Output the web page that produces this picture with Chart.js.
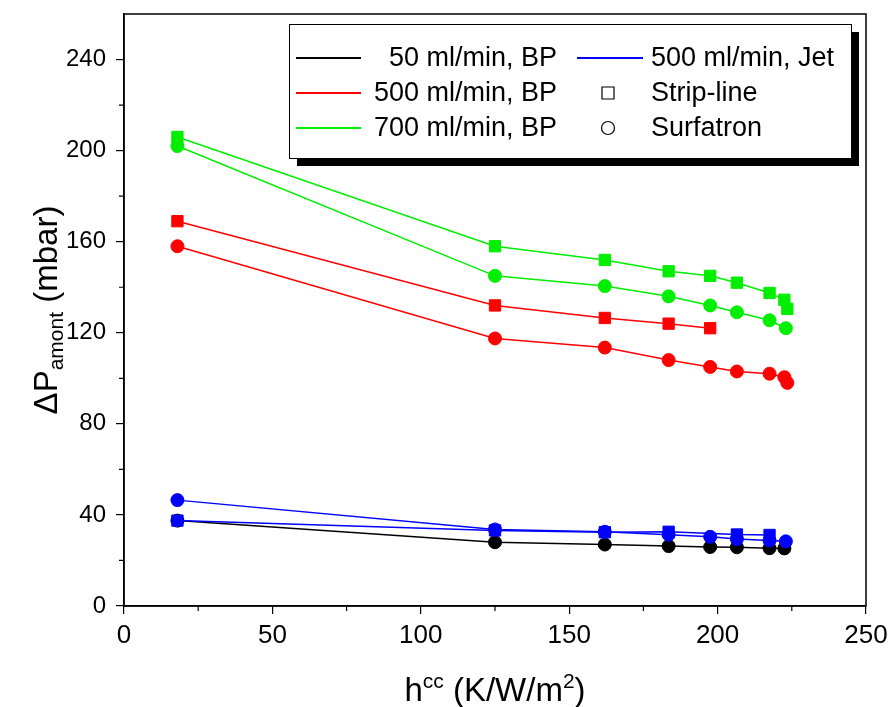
<!DOCTYPE html>
<html>
<head>
<meta charset="utf-8">
<script src="https://cdn.jsdelivr.net/npm/chart.js@4"></script>
<style>
  html, body { margin: 0; padding: 0; background: #fff; }
  #wrap { width: 893px; height: 707px; position: relative; }
</style>
</head>
<body>
<div id="wrap"><canvas id="chart"></canvas></div>
<script>
// h_cc values (K/W/m2) and pressure drop (mbar)
const greenStripX = [18, 125, 162, 183.5, 197.5, 206.5, 217.5, 222.5, 223.5];
const greenStripY = [206, 158, 152, 147, 145, 142, 137.5, 134.5, 130.5];
const greenSurfX = [18, 125, 162, 183.5, 197.5, 206.5, 217.5, 223];
const greenSurfY = [202, 145, 140.5, 136, 132, 129, 125.5, 122];

const redStripX = [18, 125, 162, 183.5, 197.5];
const redStripY = [169, 132, 126.5, 124, 122];
const redSurfX = [18, 125, 162, 183.5, 197.5, 206.5, 217.5, 222.5, 223.5];
const redSurfY = [158, 117.5, 113.5, 108, 105, 103, 102, 100.5, 98];

const blueStripX = [18, 125, 162, 183.5, 206.5, 217.5];
const blueStripY = [37.5, 33.2, 32.4, 32.6, 31.4, 31.2];
const blueSurfX = [18, 125, 162, 183.5, 197.5, 206.5, 217.5, 223];
const blueSurfY = [46.5, 33.6, 32.6, 31.3, 30.4, 29.4, 28.8, 28.4];

const blackSurfX = [18, 125, 162, 183.5, 197.5, 206.5, 217.5, 222.5];
const blackSurfY = [37.5, 28, 27, 26.3, 25.9, 25.8, 25.4, 25.3];

const xTicks = [0, 50, 100, 150, 200, 250];
const yTicks = [0, 40, 80, 120, 160, 200, 240];

const legendLines = [
  { label: '50 ml/min, BP', color: '#000000' },
  { label: '500 ml/min, BP', color: '#ff0000' },
  { label: '700 ml/min, BP', color: '#00ee00' }
];
const legendRight = [
  { label: '500 ml/min, Jet', kind: 'line', color: '#0000ff' },
  { label: 'Strip-line', kind: 'rect' },
  { label: 'Surfatron', kind: 'circle' }
];

const FONT = '"Liberation Sans", Arial, sans-serif';

function pts(xs, ys) {
  return xs.map((x, i) => ({ x: x, y: ys[i] }));
}

function series(xs, ys, color, style) {
  return {
    data: pts(xs, ys),
    showLine: true,
    borderColor: color,
    borderWidth: 1.5,
    backgroundColor: color,
    pointBackgroundColor: color,
    pointBorderColor: color,
    pointBorderWidth: 1,
    pointStyle: style,
    pointRadius: style === 'rect' ? 8 : 6.5,
    pointHoverRadius: style === 'rect' ? 8 : 6.5,
    tension: 0
  };
}

// first dataset ends up on top
const datasets = [
  series(greenStripX, greenStripY, '#00ee00', 'rect'),
  series(greenSurfX, greenSurfY, '#00ee00', 'circle'),
  series(redStripX, redStripY, '#ff0000', 'rect'),
  series(redSurfX, redSurfY, '#ff0000', 'circle'),
  series(blueStripX, blueStripY, '#0000ff', 'rect'),
  series(blueSurfX, blueSurfY, '#0000ff', 'circle'),
  series(blackSurfX, blackSurfY, '#000000', 'circle')
];

// frame, minor ticks, axis titles and the boxed legend
const decorations = {
  id: 'decorations',
  afterDraw(chart) {
    const ctx = chart.ctx;
    const a = chart.chartArea;
    const xs = chart.scales.x, ys = chart.scales.y;
    ctx.save();

    // frame
    ctx.strokeStyle = '#000';
    ctx.lineWidth = 1.5;
    ctx.strokeRect(a.left, a.top, a.right - a.left, a.bottom - a.top);

    // minor ticks
    ctx.lineWidth = 1.2;
    ctx.beginPath();
    for (let v = 20; v < 260; v += 40) {
      const py = ys.getPixelForValue(v);
      ctx.moveTo(a.left - 5, py); ctx.lineTo(a.left, py);
    }
    for (let v = 25; v < 250; v += 50) {
      const px = xs.getPixelForValue(v);
      ctx.moveTo(px, a.bottom); ctx.lineTo(px, a.bottom + 5);
    }
    ctx.stroke();

    // x axis title: h^cc (K/W/m^2)
    ctx.fillStyle = '#000';
    ctx.textBaseline = 'alphabetic';
    const big = '33px ' + FONT, small = '21px ' + FONT;
    const xParts = [
      { t: 'h', f: big, dy: 0 },
      { t: 'cc', f: small, dy: -13 },
      { t: ' (K/W/m', f: big, dy: 0 },
      { t: '2', f: small, dy: -13 },
      { t: ')', f: big, dy: 0 }
    ];
    let total = 0;
    xParts.forEach(p => { ctx.font = p.f; total += ctx.measureText(p.t).width; });
    let cx = (a.left + a.right) / 2 - total / 2;
    const by = 701;
    xParts.forEach(p => {
      ctx.font = p.f;
      ctx.textAlign = 'left';
      ctx.fillText(p.t, cx, by + p.dy);
      cx += ctx.measureText(p.t).width;
    });

    // y axis title: ΔP_amont (mbar)
    const yParts = [
      { t: '\u0394P', f: big, dy: 0 },
      { t: 'amont', f: small, dy: 6 },
      { t: ' (mbar)', f: big, dy: 0 }
    ];
    total = 0;
    yParts.forEach(p => { ctx.font = p.f; total += ctx.measureText(p.t).width; });
    ctx.translate(57, (a.top + a.bottom) / 2);
    ctx.rotate(-Math.PI / 2);
    cx = -total / 2;
    yParts.forEach(p => {
      ctx.font = p.f;
      ctx.textAlign = 'left';
      ctx.fillText(p.t, cx, p.dy);
      cx += ctx.measureText(p.t).width;
    });
    ctx.setTransform(1, 0, 0, 1, 0, 0);

    // legend box with drop shadow
    const lx = 289, ly = 24, lw = 562, lh = 134;
    ctx.fillStyle = '#000';
    ctx.fillRect(lx + 8, ly + 8, lw, lh);
    ctx.fillStyle = '#fff';
    ctx.fillRect(lx, ly, lw, lh);
    ctx.strokeStyle = '#000';
    ctx.lineWidth = 1;
    ctx.strokeRect(lx + 0.5, ly + 0.5, lw, lh);

    const rowsY = [58, 93, 128];
    ctx.font = '27px ' + FONT;
    ctx.textBaseline = 'middle';
    legendLines.forEach((item, i) => {
      ctx.strokeStyle = item.color;
      ctx.lineWidth = 2;
      ctx.beginPath();
      ctx.moveTo(296, rowsY[i]); ctx.lineTo(361, rowsY[i]);
      ctx.stroke();
      ctx.fillStyle = '#000';
      ctx.textAlign = 'right';
      ctx.fillText(item.label, 557, rowsY[i] + 1);
    });
    legendRight.forEach((item, i) => {
      const y = rowsY[i];
      ctx.strokeStyle = item.color || '#000';
      ctx.lineWidth = item.kind === 'line' ? 2 : 1.2;
      ctx.beginPath();
      if (item.kind === 'line') {
        ctx.moveTo(577, y); ctx.lineTo(643, y);
      } else if (item.kind === 'rect') {
        ctx.rect(602, y - 6, 12, 12);
      } else {
        ctx.arc(608, y, 6.5, 0, Math.PI * 2);
      }
      ctx.stroke();
      ctx.fillStyle = '#000';
      ctx.textAlign = 'left';
      ctx.fillText(item.label, 651, y + 1);
    });

    ctx.restore();
  }
};

new Chart(document.getElementById('chart'), {
  type: 'scatter',
  data: { datasets: datasets },
  options: {
    responsive: true,
    maintainAspectRatio: false,
    animation: false,
    layout: { padding: { left: 0, top: 14, right: 27, bottom: 0 } },
    plugins: {
      legend: { display: false },
      tooltip: { enabled: false }
    },
    scales: {
      x: {
        type: 'linear',
        min: 0,
        max: 250,
        afterFit: s => { s.height = 101; s.paddingLeft = 0; s.paddingRight = 0; },
        afterBuildTicks: s => { s.ticks = xTicks.map(v => ({ value: v })); },
        ticks: {
          font: { family: FONT, size: 26 },
          color: '#000',
          padding: 6,
          maxRotation: 0
        },
        grid: { drawOnChartArea: false, drawTicks: true, tickLength: 8, color: '#000', lineWidth: 1.2 },
        border: { display: true, color: '#000', width: 1.5 }
      },
      y: {
        type: 'linear',
        min: 0,
        max: 260,
        afterFit: s => { s.width = 124; s.paddingTop = 0; s.paddingBottom = 0; },
        afterBuildTicks: s => { s.ticks = yTicks.map(v => ({ value: v })); },
        ticks: {
          font: { family: FONT, size: 24 },
          color: '#000',
          padding: 10
        },
        grid: { drawOnChartArea: false, drawTicks: true, tickLength: 8, color: '#000', lineWidth: 1.2 },
        border: { display: true, color: '#000', width: 1.5 }
      }
    }
  },
  plugins: [decorations]
});
</script>
</body>
</html>
